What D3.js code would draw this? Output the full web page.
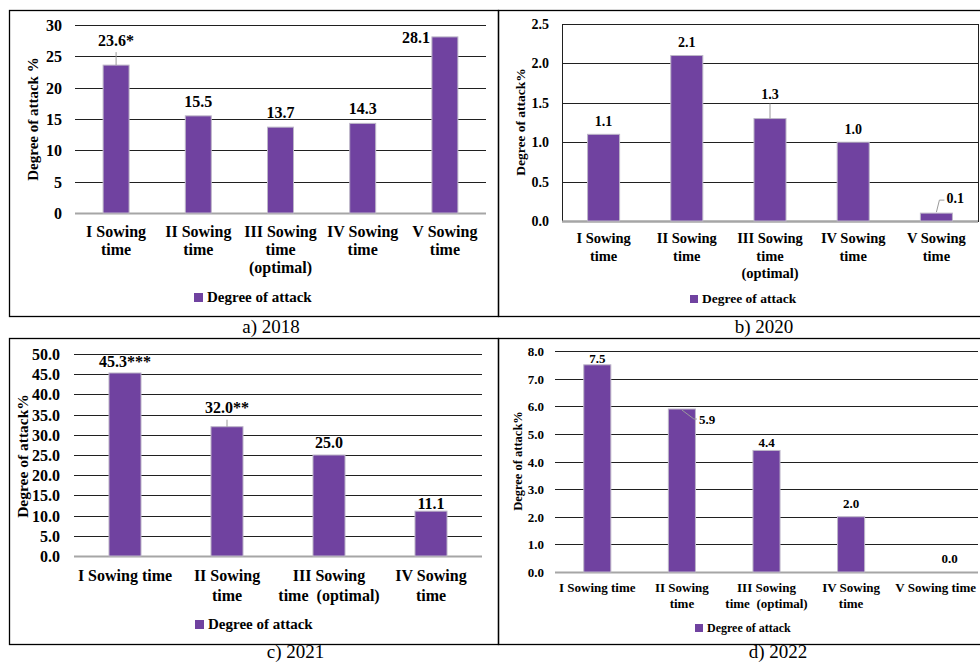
<!DOCTYPE html>
<html>
<head>
<meta charset="utf-8">
<script src="https://cdn.jsdelivr.net/npm/d3@7/dist/d3.min.js"></script>
<style>
  html, body { margin: 0; padding: 0; background: #fff; }
  svg { display: block; font-family: "Liberation Serif", "Times New Roman", serif; }
</style>
</head>
<body>
<svg id="chart" width="980" height="663"></svg>
<script>
// ---- Data -------------------------------------------------------------
const categories2018 = [["I Sowing", "time"], ["II Sowing", "time"], ["III Sowing", "time", "(optimal)"], ["IV Sowing", "time"], ["V Sowing", "time"]];
const values2018 = [23.6, 15.5, 13.7, 14.3, 28.1];
const labels2018 = ["23.6*", "15.5", "13.7", "14.3", "28.1"];
const ticks2018 = [0, 5, 10, 15, 20, 25, 30];

const categories2020 = [["I Sowing", "time"], ["II Sowing", "time"], ["III Sowing", "time", "(optimal)"], ["IV Sowing", "time"], ["V Sowing", "time"]];
const values2020 = [1.1, 2.1, 1.3, 1.0, 0.1];
const labels2020 = ["1.1", "2.1", "1.3", "1.0", "0.1"];
const ticks2020 = [0, 0.5, 1.0, 1.5, 2.0, 2.5];

const categories2021 = [["I Sowing time"], ["II Sowing", "time"], ["III Sowing", "time  (optimal)"], ["IV Sowing", "time"]];
const values2021 = [45.3, 32.0, 25.0, 11.1];
const labels2021 = ["45.3***", "32.0**", "25.0", "11.1"];
const ticks2021 = [0, 5, 10, 15, 20, 25, 30, 35, 40, 45, 50];

const categories2022 = [["I Sowing time"], ["II Sowing", "time"], ["III Sowing", "time  (optimal)"], ["IV Sowing", "time"], ["V Sowing time"]];
const values2022 = [7.5, 5.9, 4.4, 2.0, 0.0];
const labels2022 = ["7.5", "5.9", "4.4", "2.0", "0.0"];
const ticks2022 = [0, 1, 2, 3, 4, 5, 6, 7, 8];

const seriesName = "Degree of attack";

// ---- Styling ----------------------------------------------------------
const BAR = "#7042a0";
const BAR_EDGE = "#bdb6c8";
const GRID = "#202020";
const BASE = "#a6a6a6";
const LEADER = "#9a9a9a";

const svg = d3.select("#chart");

// Panel frames
const frames = [
  { x: 9.5, y: 10.5, w: 489, h: 306 },
  { x: 498.5, y: 10.5, w: 490, h: 306 },
  { x: 9.5, y: 338.5, w: 489, h: 306 },
  { x: 498.5, y: 338.5, w: 490, h: 306 }
];
svg.selectAll("rect.frame").data(frames).join("rect")
  .attr("class", "frame")
  .attr("x", d => d.x).attr("y", d => d.y)
  .attr("width", d => d.w).attr("height", d => d.h)
  .attr("fill", "none").attr("stroke", "#000").attr("stroke-width", 1.3);

function drawPanel(p) {
  const g = svg.append("g");
  const names = p.categories.map((c, i) => i);
  const x = d3.scaleBand().domain(names).range(p.xRange)
    .paddingInner(p.pad).paddingOuter(p.pad / 2);
  const y = d3.scaleLinear().domain(p.yDomain).range(p.yRange);
  const snap = v => Math.round(v) + 0.5;

  // gridlines + tick labels
  const axis = d3.axisLeft(y).tickValues(p.ticks)
    .tickSize(-(p.xRange[1] - p.xRange[0]))
    .tickPadding(p.tickPad)
    .tickFormat(p.fmt)
    .offset(0);
  const ag = g.append("g").attr("transform", `translate(${p.xRange[0]},0)`).call(axis);
  ag.select(".domain").remove();
  ag.selectAll(".tick").attr("transform", d => `translate(0,${snap(y(d))})`);
  ag.selectAll(".tick line")
    .attr("stroke", d => d === 0 ? BASE : GRID)
    .attr("stroke-width", d => d === 0 ? 2 : 1);
  ag.selectAll(".tick text")
    .attr("fill", "#000")
    .style("font-family", "Liberation Serif")
    .style("font-weight", "bold")
    .style("font-size", p.tickFont + "px");

  // plot-area box (2020 panel)
  if (p.box) {
    g.append("rect")
      .attr("x", snap(p.xRange[0])).attr("y", snap(y(p.yDomain[1])))
      .attr("width", Math.round(p.xRange[1] - p.xRange[0]))
      .attr("height", Math.round(y(p.yDomain[0]) - y(p.yDomain[1])))
      .attr("fill", "none").attr("stroke", GRID).attr("stroke-width", 1);
    g.append("line")
      .attr("x1", p.xRange[0]).attr("x2", p.xRange[1])
      .attr("y1", snap(y(0))).attr("y2", snap(y(0)))
      .attr("stroke", BASE).attr("stroke-width", 2);
  }

  // bars
  g.selectAll("rect.bar").data(p.values).join("rect")
    .attr("class", "bar")
    .attr("x", (d, i) => x(i))
    .attr("y", d => y(d))
    .attr("width", x.bandwidth())
    .attr("height", d => y(0) - y(d))
    .attr("fill", BAR)
    .attr("stroke", d => d > 0 ? BAR_EDGE : "none")
    .attr("stroke-width", 1);

  // leader lines
  const lead = g.append("g");
  p.values.forEach((v, i) => {
    const o = p.labelPos[i] || {};
    if (!o.leader) return;
    const cx = x(i) + x.bandwidth() / 2;
    const pts = o.leader.map(([dx, dy]) => [cx + dx, y(v) + dy]);
    lead.append("path")
      .attr("d", d3.line()(pts))
      .attr("fill", "none").attr("stroke", LEADER).attr("stroke-width", 1);
  });

  // value labels
  g.selectAll("text.val").data(p.values).join("text")
    .attr("class", "val")
    .attr("x", (d, i) => x(i) + x.bandwidth() / 2 + ((p.labelPos[i] || {}).dx || 0))
    .attr("y", (d, i) => y(d) + ((p.labelPos[i] || {}).dy ?? -p.labelGap))
    .attr("text-anchor", (d, i) => (p.labelPos[i] || {}).anchor || "middle")
    .attr("font-weight", "bold")
    .attr("font-size", p.valFont)
    .text((d, i) => p.labels[i]);

  // category labels
  const cat = g.selectAll("text.cat").data(p.categories).join("text")
    .attr("class", "cat")
    .attr("text-anchor", "middle")
    .attr("font-weight", "bold")
    .attr("font-size", p.catFont);
  cat.each(function (lines, i) {
    const t = d3.select(this);
    lines.forEach((ln, k) => {
      t.append("tspan")
        .attr("x", x(i) + x.bandwidth() / 2)
        .attr("y", p.catY + k * p.catLine)
        .style("white-space", "pre")
        .text(ln);
    });
  });

  // y-axis title
  g.append("text")
    .attr("transform", `translate(${p.titleX},${p.titleY}) rotate(-90)`)
    .attr("text-anchor", "middle")
    .attr("dominant-baseline", "central")
    .attr("font-weight", "bold")
    .attr("font-size", p.titleFont)
    .text(p.yTitle);

  // legend
  const lg = g.append("g").attr("transform", `translate(${p.legend[0]},${p.legend[1]})`);
  lg.append("rect").attr("x", 0).attr("y", -p.legendSq)
    .attr("width", p.legendSq).attr("height", p.legendSq).attr("fill", BAR);
  lg.append("text").attr("x", p.legendSq + 4).attr("y", 0)
    .attr("font-weight", "bold").attr("font-size", p.legendFont)
    .text(seriesName);

  // caption
  g.append("text")
    .attr("x", p.caption[0]).attr("y", p.caption[1])
    .attr("text-anchor", "middle")
    .attr("font-size", 19)
    .text(p.captionText);
}

drawPanel({
  categories: categories2018, values: values2018, labels: labels2018, ticks: ticks2018,
  fmt: d3.format("d"), yDomain: [0, 30], yRange: [213, 25], xRange: [75, 486], pad: 0.684,
  tickPad: 13, tickFont: 16, valFont: 16, labelGap: 9,
  labelPos: { 0: { dy: -19, leader: [[0, -13], [0, 0]] }, 4: { dx: -15, dy: 6, anchor: "end" } },
  catFont: 16, catY: 237, catLine: 18,
  yTitle: "Degree of attack %", titleX: 33, titleY: 119, titleFont: 15,
  legend: [194, 302], legendSq: 9, legendFont: 15,
  caption: [271, 333], captionText: "a) 2018"
});

drawPanel({
  categories: categories2020, values: values2020, labels: labels2020, ticks: ticks2020,
  fmt: d3.format(".1f"), yDomain: [0, 2.5], yRange: [221, 24], xRange: [562, 978], pad: 0.615,
  tickPad: 13, tickFont: 14, valFont: 14, labelGap: 8.5, box: true,
  labelPos: { 2: { dy: -20, leader: [[0, -15], [0, 0]] }, 4: { dx: 10, dy: -10, anchor: "start", leader: [[0, -1], [3, -13], [8, -13]] } },
  catFont: 14.5, catY: 243, catLine: 17.5,
  yTitle: "Degree of attack%", titleX: 520, titleY: 122, titleFont: 13.5,
  legend: [690, 303], legendSq: 8, legendFont: 13.5,
  caption: [764, 333], captionText: "b) 2020"
});

drawPanel({
  categories: categories2021, values: values2021, labels: labels2021, ticks: ticks2021,
  fmt: d3.format(".1f"), yDomain: [0, 50], yRange: [556, 354], xRange: [74, 482], pad: 0.686,
  tickPad: 14, tickFont: 16, valFont: 16, labelGap: 7,
  labelPos: { 0: { dy: -6 }, 1: { dy: -14, leader: [[0, -7], [0, 0]] }, 3: { dy: -2.5 } },
  catFont: 16, catY: 581, catLine: 19.5,
  yTitle: "Degree of attack%", titleX: 22, titleY: 456, titleFont: 15.5,
  legend: [195, 629], legendSq: 9, legendFont: 15,
  caption: [295.5, 658], captionText: "c) 2021"
});

drawPanel({
  categories: categories2022, values: values2022, labels: labels2022, ticks: ticks2022,
  fmt: d3.format(".1f"), yDomain: [0, 8], yRange: [572, 351], xRange: [555, 978], pad: 0.68,
  tickPad: 11, tickFont: 13, valFont: 13, labelGap: 9,
  labelPos: { 0: { dy: -2 }, 1: { dx: 17, dy: 15, anchor: "start", leader: [[0, 1], [12, 10], [15, 10]] }, 2: { dy: -3.5 }, 4: { dx: 14, dy: -9 } },
  catFont: 13, catY: 592, catLine: 16,
  yTitle: "Degree of attack%", titleX: 518, titleY: 461, titleFont: 12.5,
  legend: [695, 632], legendSq: 8, legendFont: 12,
  caption: [778, 658], captionText: "d) 2022"
});
</script>
</body>
</html>
